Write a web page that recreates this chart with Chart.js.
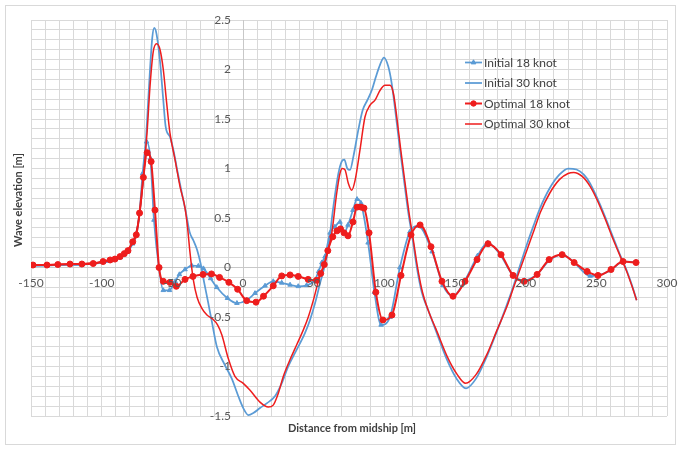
<!DOCTYPE html>
<html><head><meta charset="utf-8">
<script src="https://cdn.jsdelivr.net/npm/chart.js@4/dist/chart.umd.min.js"></script>
<style>html,body{margin:0;padding:0;background:#fff;}canvas{display:block;}</style>
</head><body>
<canvas id="c" width="681" height="449"></canvas>
<script>
const xTickLabels = [-150,-100,-50,0,50,100,150,200,250,300];
const yTickLabels = [-1.5,-1,-0.5,0,0.5,1,1.5,2,2.5];
const seriesNames = ['Initial 18 knot','Initial 30 knot','Optimal 18 knot','Optimal 30 knot'];

const xInit18 = [-148.6,-138.7,-131,-122.4,-114,-106,-99,-94,-90.6,-87,-84,-81.4,-78,-75.5,-73.2,-71,-68.2,-65.5,-63,-59.5,-56.4,-52,-48,-45,-41,-36.3,-31.6,-28,-22.9,-18.6,-11,-4.3,2.6,8.5,15.6,21.4,27.4,33.3,39.1,45,50.5,53.5,55.8,58,61.6,65,68.6,71.5,74.3,77.8,80.7,83.5,88.5,93,97.7,104,111,118,124,133.8,141.5,148.6,157,166,173,182,191,199,208,216.6,225.8,234.3,245.6,251,260,269,278];
const yInit18 = [0.02,0.02,0.025,0.03,0.03,0.04,0.055,0.07,0.08,0.1,0.13,0.16,0.24,0.33,0.55,0.95,1.27,1.1,0.48,0.0,-0.23,-0.23,-0.14,-0.07,-0.02,0.02,0.015,-0.01,-0.11,-0.2,-0.31,-0.36,-0.33,-0.26,-0.185,-0.14,-0.155,-0.175,-0.19,-0.18,-0.135,-0.04,0.05,0.11,0.35,0.41,0.46,0.35,0.43,0.58,0.69,0.65,0.25,-0.25,-0.58,-0.5,0.0,0.36,0.42,0.16,-0.18,-0.29,-0.13,0.12,0.25,0.13,-0.08,-0.13,-0.07,0.07,0.13,0.05,-0.086,-0.08,-0.03,0.06,0.055];

const xInit30 = [-148.6,-131,-114,-99,-90,-84,-80,-77,-74.5,-72,-70,-68,-66,-64.2,-62.8,-61.2,-58.7,-56.4,-54.7,-51.7,-49.3,-46.5,-43.4,-40.3,-37.8,-35,-32.5,-30,-27.5,-24.7,-22,-18.5,-13,-8,-3.3,0.2,3.8,7.3,12,17,22.6,27.4,32,38,43.9,47.4,51,54.5,57.5,60.4,63.9,67.5,69.8,71.7,73.8,75.7,78.1,81.6,84.7,88,91.1,94.1,97,99.7,102.8,105.2,108.3,111.1,114.2,117,120.1,122.9,126.5,131,136,144,151,157.8,165,172.5,179.5,186.6,191.3,196,200.8,205.5,210.2,217,224,230,236,241,245.6,250,256,262,267,271.5,275,278.5];
const yInit30 = [0.02,0.025,0.03,0.05,0.08,0.13,0.2,0.28,0.42,0.7,1.0,1.45,1.95,2.32,2.42,2.36,2.08,1.69,1.42,1.32,1.19,0.98,0.76,0.55,0.36,0.27,0.18,0.04,-0.15,-0.35,-0.55,-0.8,-0.98,-1.12,-1.3,-1.42,-1.49,-1.47,-1.42,-1.37,-1.3,-1.17,-1.0,-0.83,-0.66,-0.53,-0.36,-0.16,0.0,0.21,0.61,0.95,1.07,1.09,1.0,0.985,1.12,1.39,1.59,1.69,1.79,1.93,2.05,2.12,2.03,1.86,1.52,1.19,0.85,0.55,0.28,0.01,-0.25,-0.43,-0.62,-0.92,-1.12,-1.22,-1.12,-0.9,-0.65,-0.38,-0.19,0.02,0.23,0.42,0.6,0.8,0.94,1.0,0.99,0.94,0.85,0.72,0.52,0.3,0.12,-0.03,-0.17,-0.33];

const xOpt18 = [-148.6,-138.7,-131,-122.4,-114,-106,-99,-94,-90.6,-87,-84,-81.4,-78,-75.5,-73.2,-70.5,-67.8,-65,-62.3,-59.4,-56.4,-51.7,-47.2,-41,-35.4,-28.3,-22.3,-16.6,-10,-3.8,2.6,9.2,14.5,21.4,27.4,33.3,39.1,46.1,52,55,57.5,60,63.5,66.5,69,71.5,74.3,77.8,80.7,83.5,85.6,89.2,94,99,105.4,111.8,118.9,125.3,133,140.8,148.6,157.1,165.6,173.4,182.6,191.1,198.9,208.1,216.6,225.8,234.3,243.5,251.2,260.4,268.9,278.1];
const yOpt18 = [0.025,0.025,0.03,0.035,0.035,0.04,0.06,0.076,0.085,0.11,0.14,0.17,0.26,0.33,0.55,0.91,1.16,1.07,0.58,0.0,-0.14,-0.15,-0.19,-0.12,-0.09,-0.07,-0.065,-0.1,-0.15,-0.22,-0.335,-0.35,-0.29,-0.185,-0.085,-0.075,-0.09,-0.12,-0.13,-0.06,0.03,0.17,0.31,0.37,0.39,0.35,0.32,0.46,0.61,0.61,0.6,0.35,-0.25,-0.53,-0.48,-0.08,0.33,0.43,0.21,-0.14,-0.29,-0.14,0.08,0.24,0.13,-0.08,-0.14,-0.07,0.08,0.13,0.05,-0.04,-0.08,-0.02,0.06,0.05];

const xOpt30 = [-148.6,-131,-114,-99,-90,-84,-80,-77,-74.5,-72,-70,-67.8,-65.8,-63.5,-61.1,-58.7,-56.4,-54,-51.7,-48.1,-44.6,-41,-39.2,-37.5,-35.2,-32.5,-29.2,-25.5,-21.5,-18,-15,-10.4,-5.7,0.2,5,12,17.9,21.4,25,28.5,33.3,38,42.7,46.2,49.8,53.3,56.5,59.2,62.8,66.3,68.6,70.3,72.2,74.5,76.9,79.3,82.8,86.3,89.9,93.4,97,100.5,104,106.4,108.8,111.6,114.7,117.5,120.5,123.4,127,131.5,136.5,144.5,151.5,157.5,165,172.5,179.5,186.6,191.5,196.5,201.5,206,210.5,217,224,230,234,240,245.6,250,256,262,267,271.5,275,278.5];
const yOpt30 = [0.025,0.03,0.035,0.06,0.085,0.14,0.21,0.29,0.42,0.68,0.98,1.38,1.83,2.18,2.26,2.2,2.0,1.66,1.36,1.09,0.82,0.6,0.4,0.15,-0.12,-0.3,-0.41,-0.48,-0.52,-0.58,-0.68,-0.92,-1.1,-1.17,-1.24,-1.36,-1.41,-1.39,-1.27,-1.1,-0.93,-0.78,-0.63,-0.5,-0.33,-0.14,0.0,0.12,0.345,0.75,0.95,1.0,0.985,0.85,0.78,0.88,1.19,1.52,1.64,1.69,1.79,1.84,1.84,1.76,1.52,1.19,0.85,0.55,0.28,0.01,-0.25,-0.45,-0.62,-0.9,-1.08,-1.17,-1.08,-0.88,-0.64,-0.4,-0.2,0.0,0.2,0.38,0.56,0.75,0.89,0.95,0.96,0.92,0.82,0.7,0.5,0.28,0.11,-0.04,-0.18,-0.33];

const BLUE = '#5B9BD5';
const RED = '#EE1D1D';
const FONT = 'Lato, "Liberation Sans", sans-serif';

function pts(xs, ys){ return xs.map((x,i)=>({x:x, y:ys[i]})); }

const datasets = [
  {label: seriesNames[0], data: pts(xInit18,yInit18), borderColor: BLUE, backgroundColor: BLUE, borderWidth: 1.75,
   pointStyle:'triangle', pointRadius: 2.6, pointBorderWidth: 1, order: 2},
  {label: seriesNames[1], data: pts(xInit30,yInit30), borderColor: BLUE, backgroundColor: BLUE, borderWidth: 1.75,
   pointRadius: 0, order: 3},
  {label: seriesNames[2], data: pts(xOpt18,yOpt18), borderColor: RED, backgroundColor: RED, borderWidth: 2,
   pointStyle:'circle', pointRadius: 3, pointBorderWidth: 1, order: 0},
  {label: seriesNames[3], data: pts(xOpt30,yOpt30), borderColor: RED, backgroundColor: RED, borderWidth: 1.5,
   pointRadius: 0, order: 1}
];

function drawMarker(ctx, style, x, y, r, color){
  ctx.save();
  ctx.fillStyle = color; ctx.strokeStyle = color; ctx.lineWidth = 1;
  ctx.beginPath();
  if (style === 'triangle') {
    ctx.moveTo(x, y - r*1.15);
    ctx.lineTo(x + r, y + r*0.6);
    ctx.lineTo(x - r, y + r*0.6);
    ctx.closePath();
  } else {
    ctx.arc(x, y, r, 0, Math.PI*2);
  }
  ctx.fill(); ctx.stroke();
  ctx.restore();
}

const decor = {
  id: 'decor',
  beforeDraw(chart){
    const ctx = chart.ctx;
    ctx.save();
    ctx.fillStyle = '#fff';
    ctx.fillRect(0,0,chart.width,chart.height);
    ctx.strokeStyle = '#d9d9d9'; ctx.lineWidth = 1;
    ctx.strokeRect(5.5,5.5,670,439);
    ctx.restore();
  },
  afterDatasetsDraw(chart){
    // tick labels, placed through the chart's own scales
    const ctx = chart.ctx, sx = chart.scales.x, sy = chart.scales.y;
    const x0 = sx.getPixelForValue(0), y0 = sy.getPixelForValue(0);
    ctx.save();
    ctx.fillStyle = '#595959';
    ctx.font = '12px ' + FONT;
    ctx.textAlign = 'center'; ctx.textBaseline = 'middle';
    xTickLabels.forEach(v => ctx.fillText(String(v), sx.getPixelForValue(v), y0 + 16));
    ctx.textAlign = 'right';
    yTickLabels.forEach(v => ctx.fillText(String(v), x0 - 12, sy.getPixelForValue(v)));
    ctx.restore();
  },
  afterDraw(chart){
    const ctx = chart.ctx;
    ctx.save();
    ctx.fillStyle = '#404040';
    ctx.font = 'bold 11px ' + FONT;
    ctx.textAlign = 'center'; ctx.textBaseline = 'middle';
    ctx.fillText('Distance from midship [m]', 352, 428);
    ctx.translate(18, 200); ctx.rotate(-Math.PI/2);
    ctx.fillText('Wave elevation [m]', 0, 0);
    ctx.restore();

    // legend
    const legY = [62.5, 83, 103.5, 124];
    ctx.save();
    chart.data.datasets.forEach((ds, i) => {
      const y = legY[i];
      ctx.strokeStyle = ds.borderColor; ctx.lineWidth = ds.borderWidth;
      ctx.beginPath(); ctx.moveTo(465, y); ctx.lineTo(482, y); ctx.stroke();
      if (ds.pointRadius > 0) drawMarker(ctx, ds.pointStyle, 473.5, y, ds.pointRadius*0.9, ds.borderColor);
      ctx.fillStyle = '#404040';
      ctx.font = '12px ' + FONT;
      ctx.textAlign = 'left'; ctx.textBaseline = 'middle';
      ctx.fillText(ds.label, 484, y + 0.5);
    });
    ctx.restore();
  }
};

new Chart(document.getElementById('c'), {
  type: 'line',
  data: { datasets },
  options: {
    responsive: false,
    animation: false,
    devicePixelRatio: 1,
    events: [],
    layout: { padding: { left: 31, right: 14, top: 20, bottom: 33 } },
    elements: { line: { cubicInterpolationMode: 'monotone' } },
    plugins: { legend: { display: false }, tooltip: { enabled: false }, title: {display:false} },
    scales: {
      x: {
        type: 'linear', min: -150, max: 300, position: { y: 0 },
        grid: { color: '#d9d9d9', drawTicks: false, lineWidth: 1 },
        border: { color: '#c8c8c8' },
        ticks: { stepSize: 10, maxTicksLimit: 200, autoSkip: false, maxRotation: 0, display: false }
      },
      y: {
        type: 'linear', min: -1.5, max: 2.5, position: { x: 0 },
        grid: { color: '#d9d9d9', drawTicks: false, lineWidth: 1 },
        border: { color: '#c8c8c8' },
        ticks: { stepSize: 0.1, maxTicksLimit: 200, autoSkip: false, display: false }
      }
    }
  },
  plugins: [decor]
});
</script>
</body></html>
